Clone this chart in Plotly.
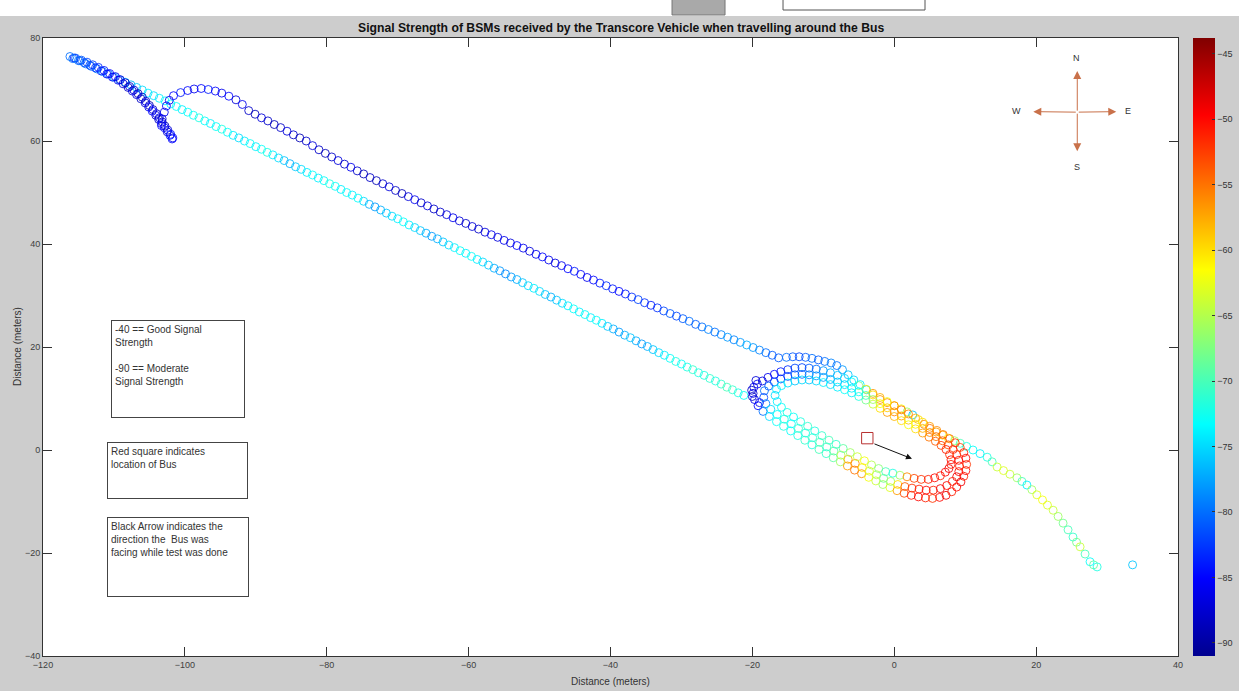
import plotly.graph_objects as go

# ---------------- data ----------------
# Cyan track (lower straight line)
cyan_x = [-115.6,-114.8,-114.0,-113.2,-112.4,-111.6,-110.8,-110.0,-109.2,-108.4,
          -107.6,-106.8,-106.0,-105.2,-104.4,-103.6,-102.8,-102.0,-101.2,-100.4,
          -99.6,-98.8,-98.0,-97.2,-96.4,-95.6,-94.8,-94.0,-93.2,-92.4,
          -91.6,-90.8,-90.0,-89.2,-88.4,-87.6,-86.8,-86.0,-85.2,-84.4,
          -83.6,-82.8,-82.0,-81.2,-80.4,-79.6,-78.8,-78.0,-77.2,-76.4,
          -75.6,-74.8,-74.0,-73.2,-72.4,-71.6,-70.8,-70.0,-69.2,-68.4,
          -67.6,-66.8,-66.0,-65.2,-64.4,-63.6,-62.8,-62.0,-61.2,-60.4,
          -59.6,-58.8,-58.0,-57.2,-56.4,-55.6,-54.8,-54.0,-53.2,-52.4,
          -51.6,-50.8,-50.0,-49.2,-48.4,-47.6,-46.8,-46.0,-45.2,-44.4,
          -43.6,-42.8,-42.0,-41.2,-40.4,-39.6,-38.8,-38.0,-37.2,-36.4,
          -35.6,-34.8,-34.0,-33.2,-32.4,-31.6,-30.8,-30.0,-29.2,-28.4,
          -27.6,-26.8,-26.0,-25.2,-24.4,-23.6,-22.8,-22.0,-21.2]
cyan_y = [76.1,75.6,75.0,74.5,74.0,73.5,73.0,72.4,71.9,71.4,
          70.9,70.4,69.9,69.3,68.8,68.3,67.8,67.2,66.7,66.1,
          65.6,65.0,64.5,63.9,63.4,62.8,62.3,61.7,61.1,60.6,
          60.0,59.5,58.9,58.4,57.8,57.3,56.7,56.2,55.6,55.0,
          54.5,53.9,53.4,52.8,52.3,51.7,51.2,50.6,50.0,49.5,
          48.9,48.3,47.7,47.2,46.6,46.0,45.4,44.9,44.3,43.7,
          43.2,42.6,42.1,41.5,41.0,40.4,39.8,39.3,38.7,38.2,
          37.6,37.0,36.5,35.9,35.3,34.8,34.2,33.6,33.1,32.5,
          31.9,31.4,30.8,30.2,29.7,29.1,28.5,28.0,27.4,26.8,
          26.3,25.7,25.2,24.6,24.0,23.5,22.9,22.3,21.8,21.2,
          20.6,20.1,19.5,18.9,18.4,17.8,17.2,16.7,16.1,15.6,
          15.0,14.5,13.9,13.4,12.8,12.2,11.7,11.1,10.6]
cyan_rssi = [-84,-82,-80,-80,-79,-78,-79,-77,-78,-76,
             -77,-76,-75,-74,-75,-74,-73,-74,-73,-74,
             -73,-73,-72,-73,-74,-73,-72,-73,-74,-75,
             -74,-73,-74,-73,-72,-74,-75,-76,-77,-76,
             -75,-74,-73,-74,-73,-72,-73,-74,-73,-74,
             -73,-75,-77,-78,-77,-76,-75,-74,-73,-74,
             -75,-76,-77,-78,-77,-76,-75,-74,-73,-74,
             -73,-74,-75,-76,-77,-78,-79,-78,-77,-76,
             -75,-74,-75,-76,-77,-76,-75,-74,-73,-74,
             -73,-74,-73,-74,-76,-77,-78,-77,-76,-77,
             -78,-77,-76,-75,-74,-73,-72,-73,-72,-71,
             -72,-72,-71,-72,-71,-70,-71,-72,-73]

# Dark curve at the top-left (two overlapping passes)
curve1_x = [-116.2,-115.4,-114.6,-113.8,-113.0,-112.2,-111.4,-110.6,-109.8,-109.1,
            -108.4,-107.8,-107.2,-106.6,-106.0,-105.5,-105.0,-104.5,-104.0,-103.6,
            -103.2,-102.8,-102.4,-102.0,-101.7]
curve1_y = [76.4,76.1,75.7,75.3,74.8,74.3,73.7,73.1,72.5,71.9,
            71.3,70.6,69.9,69.2,68.5,67.7,66.9,66.1,65.3,64.5,
            63.7,62.9,62.1,61.3,60.6]
curve1_rssi = [-80,-81,-81,-82,-82,-83,-84,-85,-86,-87,
               -88,-88,-87,-89,-88,-87,-89,-88,-87,-86,
               -88,-89,-87,-85,-86]
curve2_x = [-115.8,-115.0,-114.2,-113.4,-112.6,-111.8,-111.0,-110.2,-109.4,-108.7,
            -108.0,-107.4,-106.8,-106.2,-105.6,-105.1,-104.6,-104.1,-103.7,-103.3,
            -102.9,-102.5,-102.1,-101.8]
curve2_y = [76.0,75.6,75.2,74.7,74.2,73.6,73.0,72.4,71.8,71.1,
            70.4,69.7,69.0,68.2,67.4,66.6,65.8,65.0,64.2,63.4,
            62.6,61.8,61.1,60.4]
curve2_rssi = [-80,-80,-81,-82,-83,-84,-85,-86,-86,-87,
               -88,-87,-86,-88,-87,-86,-85,-87,-88,-86,
               -85,-87,-84,-85]

# Hook joining the dark line
hook_x = [-103.3,-103.2,-102.9,-102.6,-102.2,-101.6,-100.6,-99.6,-98.7,-97.7,
          -96.7,-95.7,-94.8,-93.8,-92.8,-91.9]
hook_y = [63.0,64.3,65.6,66.8,67.9,68.8,69.4,69.8,70.1,70.2,
          70.0,69.7,69.3,68.7,68.0,67.1]
hook_rssi = [-85,-87,-86,-85,-86,-85,-84,-85,-86,-85,
             -84,-85,-86,-85,-87,-86]

# Dark blue track (upper line)
dark_x = [-91.0,-90.1,-89.2,-88.3,-87.4,-86.5,-85.6,-84.7,-83.8,-82.9,
          -82.0,-81.1,-80.2,-79.3,-78.4,-77.5,-76.6,-75.7,-74.8,-73.9,
          -73.0,-72.1,-71.2,-70.3,-69.4,-68.5,-67.6,-66.7,-65.8,-64.9,
          -64.0,-63.1,-62.2,-61.3,-60.4,-59.5,-58.6,-57.7,-56.8,-55.9,
          -55.0,-54.1,-53.2,-52.3,-51.4,-50.5,-49.6,-48.7,-47.8,-46.9,
          -46.0,-45.1,-44.2,-43.3,-42.4,-41.5,-40.6,-39.7,-38.8,-37.9,
          -37.0,-36.1,-35.2,-34.3,-33.4,-32.5,-31.6,-30.7,-29.8,-28.9,
          -28.0,-27.1,-26.2,-25.3,-24.4,-23.5,-22.6,-21.7,-20.8,-19.9,
          -19.0,-18.1,-17.2,-16.3]
dark_y = [65.9,65.2,64.5,63.9,63.2,62.6,61.9,61.2,60.6,60.0,
          59.1,58.3,57.6,56.9,56.2,55.5,54.9,54.2,53.6,52.9,
          52.3,51.7,51.1,50.4,49.8,49.2,48.6,48.0,47.4,46.8,
          46.2,45.7,45.1,44.5,44.0,43.4,42.9,42.3,41.8,41.3,
          40.7,40.2,39.7,39.2,38.6,38.0,37.5,36.9,36.3,35.8,
          35.2,34.7,34.1,33.5,33.0,32.4,31.9,31.3,30.8,30.3,
          29.7,29.2,28.6,28.1,27.6,27.0,26.5,26.0,25.5,25.0,
          24.4,23.9,23.4,22.9,22.4,21.9,21.4,20.9,20.4,19.9,
          19.4,18.9,18.4,17.9]
dark_rssi = [-88,-89,-87,-88,-89,-88,-87,-88,-89,-88,
             -87,-88,-89,-88,-87,-88,-86,-88,-89,-88,
             -89,-88,-87,-88,-89,-87,-86,-88,-87,-88,
             -88,-87,-86,-87,-88,-87,-88,-87,-86,-87,
             -86,-87,-85,-86,-87,-86,-85,-86,-87,-86,
             -85,-84,-85,-86,-85,-84,-83,-84,-85,-84,
             -83,-82,-83,-84,-83,-82,-81,-82,-81,-80,
             -81,-80,-79,-80,-79,-78,-79,-78,-77,-78,
             -79,-80,-81,-81]

# Continuation over the top of the loop and the south-east tail
tail_x = [-15.2,-14.3,-13.4,-12.5,-11.6,-10.7,-9.8,-8.9,-8.1,-7.3,
          -6.5,-5.7,-4.8,-3.9,-3.0,-2.0,-1.0,0.0,1.0,1.8,
          2.6,3.4,4.2,5.0,5.9,6.8,7.6,8.5,9.3,10.2,
          11.1,12.1,13.1,13.8,14.5,15.4,16.3,17.3,18.0,18.7,
          19.4,20.1,20.9,21.6,22.4,23.1,23.8,24.5,25.2,25.7,
          26.2,26.9,27.6,28.1,28.6,33.6]
tail_y = [18.0,18.1,18.1,18.0,17.8,17.5,17.2,16.9,16.4,15.6,
          14.6,13.6,12.7,11.7,10.7,9.8,9.2,8.6,8.0,7.4,
          6.8,5.9,5.0,4.2,3.5,2.9,2.3,1.8,1.3,0.7,
          0.0,-0.7,-1.4,-2.3,-3.3,-4.0,-4.7,-5.4,-6.1,-6.8,
          -7.7,-8.7,-9.7,-10.7,-11.7,-12.9,-14.2,-15.5,-16.9,-17.9,
          -18.8,-20.2,-21.7,-22.3,-22.7,-22.3]
tail_rssi = [-80,-81,-82,-81,-80,-81,-80,-79,-80,-78,
             -76,-75,-74,-73,-60,-57,-56,-58,-62,-66,
             -76,-60,-56,-55,-57,-58,-62,-66,-70,-72,
             -73,-74,-72,-70,-64,-63,-64,-66,-70,-74,
             -66,-63,-62,-63,-64,-66,-68,-70,-71,-68,
             -64,-70,-73,-69,-72,-76]

# Outer lap around the bus
outer_x = [-19.8,-19.9,-19.7,-19.2,-18.5,-17.6,-16.6,-15.6,-14.6,-13.6,
           -12.6,-11.6,-10.6,-9.6,-8.6,-7.6,-6.6,-5.6,-4.6,-3.6,
           -2.6,-1.6,-0.6,0.4,1.4,2.4,3.4,4.4,5.4,6.4,
           7.3,8.1,8.8,9.4,9.8,10.1,10.2,10.1,9.8,9.3,
           8.6,7.8,6.9,6.0,5.0,4.0,3.0,2.0,1.0,0.0,
           -1.0,-2.0,-3.0,-4.0,-5.0,-6.0,-7.0,-8.0,-9.0,-10.0,
           -11.0,-12.0,-13.0,-14.0,-15.0,-16.0,-16.9,-17.8,-18.6,-19.3,
           -20.1,-19.5,-19.0,-20.0]
outer_y = [12.2,11.0,9.8,8.6,7.5,6.5,5.5,4.6,3.7,2.8,
           1.9,1.0,0.1,-0.7,-1.5,-2.3,-3.1,-3.9,-4.6,-5.3,
           -6.0,-6.7,-7.3,-7.9,-8.4,-8.8,-9.1,-9.3,-9.4,-9.2,
           -8.8,-8.1,-7.2,-6.2,-5.1,-4.0,-2.8,-1.6,-0.5,0.5,
           1.4,2.2,3.0,3.8,4.6,5.4,6.2,7.0,7.8,8.6,
           9.4,10.2,11.0,11.8,12.5,13.2,13.9,14.5,15.0,15.4,
           15.7,15.9,16.0,15.9,15.6,15.2,14.7,14.1,13.4,12.8,
           11.6,13.5,9.2,10.4]
outer_rssi = [-86,-87,-86,-85,-80,-75,-73,-72,-73,-72,
              -71,-72,-70,-71,-69,-66,-57,-55,-56,-62,
              -64,-66,-63,-57,-53,-51,-50,-51,-52,-50,
              -49,-51,-50,-49,-51,-50,-52,-50,-51,-53,
              -52,-54,-55,-56,-57,-60,-58,-56,-55,-57,
              -62,-58,-57,-60,-68,-73,-75,-76,-77,-78,
              -80,-81,-82,-82,-83,-84,-85,-86,-87,-86,
              -88,-87,-86,-88]

# Middle lap around the bus
middle_x = [-18.3,-18.4,-18.1,-17.4,-16.5,-15.5,-14.5,-13.5,-12.5,-11.5,
            -10.5,-9.5,-8.5,-7.5,-6.5,-5.5,-4.5,-3.5,-2.5,-1.5,
            -0.5,0.5,1.5,2.5,3.5,4.5,5.5,6.5,7.4,8.2,
            8.8,9.1,9.2,9.1,8.8,8.3,7.6,6.8,5.9,5.0,
            4.0,3.0,2.0,1.0,0.0,-1.0,-2.0,-3.0,-4.0,-5.0,
            -6.0,-7.0,-8.0,-9.0,-10.0,-11.0,-12.0,-13.0,-14.0,-15.0,
            -16.0,-16.9,-17.7]
middle_y = [11.5,10.2,9.0,7.9,6.9,6.0,5.1,4.2,3.3,2.4,
            1.5,0.6,-0.2,-1.0,-1.8,-2.6,-3.4,-4.1,-4.8,-5.5,
            -6.1,-6.7,-7.1,-7.4,-7.6,-7.8,-7.8,-7.5,-6.9,-6.1,
            -5.2,-4.2,-3.1,-2.0,-0.9,0.1,1.0,1.8,2.6,3.4,
            4.2,5.0,5.8,6.6,7.4,8.2,9.0,9.8,10.6,11.3,
            12.0,12.7,13.2,13.7,14.1,14.4,14.6,14.7,14.6,14.3,
            13.8,13.2,12.4]
middle_rssi = [-80,-82,-79,-75,-73,-72,-73,-71,-72,-71,
               -70,-71,-69,-65,-58,-56,-60,-63,-65,-68,
               -66,-60,-54,-52,-51,-50,-51,-49,-50,-51,
               -49,-50,-51,-50,-52,-51,-53,-54,-55,-56,
               -58,-61,-59,-57,-56,-59,-62,-66,-70,-73,
               -74,-75,-76,-77,-78,-78,-79,-80,-81,-82,
               -83,-82,-81]

# Inner lap around the bus
inner_x = [-16.6,-16.8,-16.5,-15.9,-15.1,-14.2,-13.2,-12.2,-11.2,-10.2,
           -9.2,-8.2,-7.2,-6.2,-5.2,-4.2,-3.2,-2.2,-1.2,-0.2,
           0.8,1.8,2.8,3.8,4.8,5.7,6.5,7.2,7.7,8.0,
           8.0,7.8,7.3,6.6,5.8,4.9,4.0,3.0,2.0,1.0,
           0.0,-1.0,-2.0,-3.0,-4.0,-5.0,-6.0,-7.0,-8.0,-9.0,
           -10.0,-11.0,-12.0,-13.0,-14.0,-15.0,-15.9]
inner_y = [11.8,10.6,9.4,8.3,7.3,6.4,5.5,4.6,3.7,2.8,
           1.9,1.1,0.3,-0.5,-1.3,-2.1,-2.9,-3.6,-4.2,-4.5,
           -4.9,-5.2,-5.5,-5.7,-5.7,-5.4,-5.0,-4.3,-3.6,-2.8,
           -1.9,-0.9,0.1,0.9,1.7,2.5,3.3,4.1,4.9,5.7,
           6.5,7.3,8.1,8.9,9.7,10.4,11.1,11.7,12.2,12.7,
           13.1,13.4,13.6,13.6,13.4,13.0,12.5]
inner_rssi = [-74,-75,-74,-73,-72,-73,-72,-71,-72,-71,
              -70,-71,-69,-66,-64,-62,-65,-67,-70,-72,
              -66,-56,-53,-52,-51,-50,-51,-50,-49,-51,
              -50,-52,-51,-53,-54,-55,-57,-60,-62,-60,
              -58,-57,-60,-64,-68,-72,-74,-73,-74,-75,
              -74,-75,-76,-75,-76,-75,-74]

# Bus location and facing direction
bus_x, bus_y = -3.8, 2.3
bus_dir_x, bus_dir_y = 2.5, -1.7

x_ticks = [-120, -100, -80, -60, -40, -20, 0, 20, 40]
y_ticks = [-40, -20, 0, 20, 40, 60, 80]
cbar_ticks = [-45, -50, -55, -60, -65, -70, -75, -80, -85, -90]

segments = [
    (cyan_x, cyan_y, cyan_rssi),
    (curve1_x, curve1_y, curve1_rssi),
    (curve2_x, curve2_y, curve2_rssi),
    (hook_x, hook_y, hook_rssi),
    (dark_x, dark_y, dark_rssi),
    (tail_x, tail_y, tail_rssi),
    (outer_x, outer_y, outer_rssi),
    (middle_x, middle_y, middle_rssi),
    (inner_x, inner_y, inner_rssi),
]
all_x, all_y, all_c = [], [], []
for sx, sy, sc in segments:
    assert len(sx) == len(sy) == len(sc), (len(sx), len(sy), len(sc))
    all_x += sx
    all_y += sy
    all_c += sc

jet = [[0.0, '#00008f'], [0.125, '#0000ff'], [0.375, '#00ffff'],
       [0.625, '#ffff00'], [0.875, '#ff0000'], [1.0, '#800000']]

FONT = 'Liberation Sans, Arial, Helvetica, sans-serif'

fig = go.Figure()
fig.add_trace(go.Scatter(
    x=all_x, y=all_y, mode='markers',
    marker=dict(symbol='circle-open', size=8, color=all_c, colorscale=jet,
                cmin=-91, cmax=-43.8, line=dict(width=1), opacity=0.85,
                colorbar=dict(x=1.0132, xanchor='left', xpad=0, ypad=0,
                              y=0.5, yanchor='middle', len=1, lenmode='fraction',
                              thickness=22, thicknessmode='pixels',
                              tickvals=cbar_ticks, ticks='inside', ticklen=3,
                              tickcolor='#333333', outlinewidth=0,
                              tickfont=dict(family=FONT, size=9, color='#333333'))),
    hoverinfo='skip', showlegend=False))

axis_common = dict(showgrid=False, zeroline=False, showline=True, linecolor='#333333',
                   linewidth=1, mirror='ticks', ticks='inside', ticklen=9,
                   tickcolor='#333333', tickfont=dict(family=FONT, size=9, color='#404040'))
fig.update_xaxes(range=[-120, 40], tickvals=x_ticks, **axis_common)
fig.update_yaxes(range=[-40, 80], tickvals=y_ticks, **axis_common)

shapes = [
    # white strip and window remnants at the very top
    dict(type='rect', xref='paper', yref='paper', x0=-0.04, x1=1.06, y0=1.0356, y1=1.07,
         fillcolor='white', line=dict(width=0)),
    dict(type='rect', xref='paper', yref='paper', x0=0.5542, x1=0.6009, y0=1.0372, y1=1.07,
         fillcolor='#a9a9a9', line=dict(color='#777777', width=1)),
    dict(type='rect', xref='paper', yref='paper', x0=0.652, x1=0.7771, y0=1.0453, y1=1.07,
         fillcolor='white', line=dict(color='#555555', width=1)),
    # red square = bus
    dict(type='rect', xref='x', yref='y', x0=bus_x - 0.8, x1=bus_x + 0.8,
         y0=bus_y - 1.1, y1=bus_y + 1.1, line=dict(color='#b83030', width=1),
         fillcolor='rgba(0,0,0,0)'),
]
fig.update_layout(shapes=shapes)

ann = []
# title
ann.append(dict(text='<b>Signal Strength of BSMs received by the Transcore Vehicle when travelling around the Bus</b>',
                xref='paper', yref='paper', x=0.509, y=1.016, xanchor='center', yanchor='middle',
                showarrow=False, font=dict(family=FONT, size=12.2, color='#111111')))
# axis titles
ann.append(dict(text='Distance (meters)', xref='paper', yref='paper', x=0.4996, y=-0.0405,
                xanchor='center', yanchor='middle', showarrow=False,
                font=dict(family=FONT, size=10, color='#333333')))
ann.append(dict(text='Distance (meters)', xref='paper', yref='paper', x=-0.0229, y=0.5,
                xanchor='center', yanchor='middle', textangle=-90, showarrow=False,
                font=dict(family=FONT, size=10, color='#333333')))
# text boxes
box_font = dict(family=FONT, size=10, color='#333333')
def tbox(text, px_left, py_top, w, h):
    return dict(text=text, xref='paper', yref='paper',
                x=(px_left - 43) / 1135, y=(656 - py_top) / 618,
                xanchor='left', yanchor='top', align='left', valign='top',
                width=w, height=h, showarrow=False, bgcolor='white',
                bordercolor='#444444', borderwidth=1, borderpad=3, font=box_font)
ann.append(tbox('-40 == Good Signal<br>Strength<br><br>-90 == Moderate<br>Signal Strength', 111, 320, 126, 90))
ann.append(tbox('Red square indicates<br>location of Bus', 107, 442, 133, 49))
ann.append(tbox('Black Arrow indicates the<br>direction the  Bus was<br>facing while test was done', 107, 517, 134, 72))

# compass
cx, cy = 25.8, 65.6
for tx, ty in [(25.8, 73.6), (25.8, 58.0), (19.6, 65.7), (31.3, 65.7)]:
    ann.append(dict(x=tx, y=ty, ax=cx, ay=cy, xref='x', yref='y', axref='x', ayref='y',
                    text='', showarrow=True, arrowhead=2, arrowsize=1.6, arrowwidth=1,
                    arrowcolor='#c9714a'))
for label, lx, ly in [('N', 25.7, 76.2), ('S', 25.7, 55.0), ('W', 17.3, 65.8), ('E', 32.9, 65.8)]:
    ann.append(dict(x=lx, y=ly, xref='x', yref='y', text=label, showarrow=False,
                    font=dict(family=FONT, size=9, color='#333333')))
# black arrow for bus direction
ann.append(dict(x=bus_dir_x, y=bus_dir_y, ax=bus_x + 0.8, ay=bus_y - 1.0,
                xref='x', yref='y', axref='x', ayref='y', text='', showarrow=True,
                arrowhead=2, arrowsize=1.2, arrowwidth=1, arrowcolor='#111111'))

fig.update_layout(
    annotations=ann,
    width=1239, height=691,
    margin=dict(l=43, r=61, t=38, b=35, autoexpand=False),
    paper_bgcolor='#cdcdcd', plot_bgcolor='white',
    font=dict(family=FONT, size=9, color='#333333'),
    showlegend=False,
)

fig.write_html("out.html", config={'displayModeBar': False},
               post_script="document.body.style.margin='0';document.body.style.overflow='hidden';")
